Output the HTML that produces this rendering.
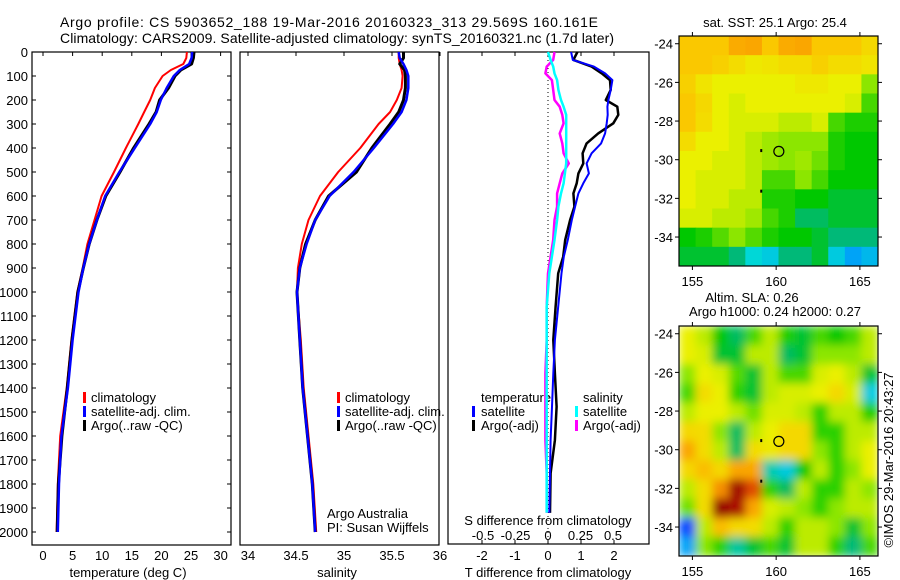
<!DOCTYPE html>
<html><head><meta charset="utf-8"><style>
html,body{margin:0;padding:0;background:#fff;}
svg{display:block;font-family:"Liberation Sans",sans-serif;}
</style></head><body>
<svg id="fig" width="900" height="580" viewBox="0 0 900 580" xmlns="http://www.w3.org/2000/svg">
<defs>
<clipPath id="clipSST"><rect x="679" y="36" width="199" height="230"/></clipPath>
<clipPath id="clipSLA"><rect x="679" y="326" width="199" height="230"/></clipPath>
<filter id="blur" x="679" y="326" width="199" height="230" filterUnits="userSpaceOnUse"><feGaussianBlur stdDeviation="4.5" edgeMode="duplicate"/></filter>
</defs>
<text x="329" y="27" font-size="14" text-anchor="middle" textLength="538">Argo profile: CS 5903652_188 19-Mar-2016 20160323_313 29.569S 160.161E</text>
<text x="337" y="43" font-size="14" text-anchor="middle" textLength="554">Climatology: CARS2009. Satellite-adjusted climatology: synTS_20160321.nc (1.7d later)</text>
<g id="g1"></g>
<g id="g2"></g>
<g id="g3"></g>
<g id="g4"></g>
<g id="g5"></g>
</svg>
<script>
// ---- profile data ----
const depthsA = [0,25,50,75,100,150,200,250,300,400,500,600,700,800,900,1000,1200,1400,1600,1800,2000];
const tempClim = [24.3,24.2,23.7,21.6,20.2,18.9,18.1,17.1,16.1,14.0,12.0,9.9,8.7,7.5,6.7,5.8,4.8,4.0,2.9,2.5,2.3];
const tempSat = [25.2,25.1,24.7,23.1,22.1,20.9,19.9,19.2,18.1,15.5,12.9,10.5,9.1,7.8,6.8,6.0,5.0,4.2,3.1,2.7,2.5];
const tempArgo = [25.5,25.4,25.1,23.3,22.3,21.2,19.7,19.1,17.9,15.3,13.0,10.6,9.1,7.8,6.8,5.9,4.9,4.1,3.2,2.6,2.4];
const salClim = [35.57,35.57,35.58,35.60,35.61,35.60,35.55,35.48,35.36,35.17,34.94,34.75,34.63,34.56,34.52,34.51,34.55,34.58,34.63,34.68,34.71];
const salSat = [35.57,35.58,35.62,35.65,35.67,35.67,35.65,35.60,35.51,35.31,35.10,34.85,34.70,34.61,34.54,34.51,34.54,34.57,34.62,34.67,34.70];
const salArgo = [35.62,35.62,35.58,35.63,35.64,35.64,35.62,35.57,35.48,35.29,35.13,34.84,34.70,34.60,34.54,34.51,34.54,34.57,34.62,34.67,34.70];
const depthsD = [0,33,61,89,117,158,200,228,262,297,339,381,422,464,506,547,589,644,700,783,853,922,1061,1200,1339,1478,1617,1756,1920];
const tdiffSat = [0.70,0.75,1.39,1.73,1.95,1.90,1.83,1.80,1.81,1.78,1.73,1.61,1.32,1.17,1.24,1.07,0.92,0.82,0.72,0.60,0.48,0.41,0.31,0.21,0.16,0.12,0.08,0.06,0.04];
const tdiffArgo = [0.89,0.77,1.32,1.63,1.88,1.90,1.75,2.10,2.13,1.98,1.52,1.17,1.05,1.07,0.92,0.87,0.77,0.80,0.67,0.52,0.46,0.31,0.23,0.16,0.21,0.26,0.21,0.08,0.06];
const sdiffSat = [0.00,0.02,0.04,0.05,0.07,0.08,0.10,0.12,0.14,0.14,0.14,0.14,0.14,0.14,0.13,0.12,0.10,0.08,0.07,0.05,0.03,0.01,-0.01,-0.01,-0.01,-0.01,-0.01,-0.01,-0.01];
const sdiffArgo = [0.05,0.04,-0.01,-0.02,0.03,0.04,0.05,0.09,0.11,0.12,0.09,0.11,0.12,0.16,0.11,0.09,0.07,0.07,0.05,0.04,0.02,0.00,-0.01,-0.01,-0.02,-0.02,-0.02,-0.01,-0.01];
const depthTicks = [0,100,200,300,400,500,600,700,800,900,1000,1100,1200,1300,1400,1500,1600,1700,1800,1900,2000];
const tempTicks = [0,5,10,15,20,25,30];
const salTicks = [34,34.5,35,35.5,36];
const tdTicks = [-2,-1,0,1,2];
const sdTicks = [-0.5,-0.25,0,0.25,0.5];
// ---- map data (rows north->south, cols west->east) ----
const sstGrid = [
[8,8,8,8.5,8.6,8,8.5,8.6,8,8,8,7.6],
[8,8,7.8,7.5,7.2,7.3,7.5,7.5,7.8,7.5,7.5,7.3],
[7.8,7.3,7,7,7,7,7,7.2,7.2,7,7,6],
[8,7.6,7,6.8,7,7,7,7,7,7,6.8,5.5],
[8,7.5,7,6.8,6.8,6.8,6.5,6.5,6.8,5.5,5.2,5.2],
[7.5,7,7,6.8,6.5,6.2,6,6,6,5.2,5,5],
[7,7,6.8,6.8,6.5,6.2,6,6.2,5.8,5.2,5,5],
[7,6.8,6.8,6.8,6.5,5.5,5.5,6,5.5,5,5,5],
[7,6.8,6.8,6.5,6.5,5.2,5.2,5,5,4.8,4.8,4.8],
[6.8,6.8,6.5,6.5,6.2,5.5,5.2,4.6,4.6,4.8,4.8,4.8],
[5,5.2,5.6,6,5.6,5.2,5,5,4.8,4.5,4.5,4.5],
[4.8,4.8,4.8,4.5,4,3.8,4.5,4.5,4.8,3.8,3.2,3.5]];
const slaGrid = [
[7,6.5,5,4.6,5.5,6.5,5.2,4.8,5.5,5,5.5,6.5],
[7,6.8,4.8,4.8,6.5,6.5,4.6,4.8,6,6,6,6.5],
[6,7,6.8,5.6,4.8,6.5,5.5,5.5,6.8,7,6.5,4.8],
[5.5,7.5,7,5.3,4.8,6.5,6.8,6.8,7,7.6,6.8,3.8],
[6.5,7,7,6.5,5.8,6.8,6.8,6.5,5.3,6.5,6.5,5.2],
[7.6,7.5,6,4.6,6.5,7,7.6,7.6,5.3,5.3,6.5,6.5],
[8.6,7.5,6.5,4.6,7.5,7.2,7.6,7.6,6,5.3,6.5,7],
[7.6,8.2,7.6,8.6,8.6,4.2,3.8,5,6.5,5.3,6,7],
[6.5,7.5,8.8,9.9,9.2,5.3,4.6,6.5,5.3,5.3,6.5,6],
[5.8,7.5,10,9.8,8.6,6.8,6.5,6,5.3,6,6.5,6.5],
[2.2,6.5,8.2,7.6,7.5,6.5,5.3,6.5,6.5,6,4.8,6],
[3.2,6,5.3,4.3,4.8,5.5,4.8,6.5,6.5,5.3,4.5,5.5]];
const lonTicks = [155,160,165];
const latTicks = [-24,-26,-28,-30,-32,-34];
const argoLon = 160.161, argoLat = -29.569;

const NS = "http://www.w3.org/2000/svg";
function mk(parent, tag, attrs, text){
  const e = document.createElementNS(NS, tag);
  for (const k in attrs) e.setAttribute(k, attrs[k]);
  if (text !== undefined) e.textContent = text;
  parent.appendChild(e); return e;
}
const yD = d => 52 + d * 0.24;
const xT = t => 43 + t * 5.92;
const xS = s => 296 + (s - 34.5) * 96;
const xTD = v => 548 + v * 33;
const xSD = v => 548 + v * 130;
function line(g, xs, ds, xf, color, w, name){
  const pts = xs.map((v,i)=> xf(v).toFixed(1)+","+yD(ds[i]).toFixed(1)).join(" ");
  const p = mk(g, "polyline", {points: pts, fill:"none", stroke: color, "stroke-width": w, "stroke-linejoin":"round"});
  
  
}
function frame(g, x, y, w, h, name){
  const r = mk(g, "rect", {x:x, y:y, width:w, height:h, fill:"none", stroke:"#000", "stroke-width":1.2});
  
  
}
function txt(g, x, y, s, size, anchor, name){
  const t = mk(g, "text", {x:x, y:y, "font-size": size, "text-anchor": anchor||"start"}, s);
  
  
  return t;
}
function legendMark(g, x, y, color, name){
  const r = mk(g, "rect", {x:x, y:y-10, width:3, height:11, fill:color});
  
  
}

// Panel 1 temperature
const g1 = document.getElementById("g1");
frame(g1, 32, 52, 199, 493, "temperature-plot-frame");
depthTicks.forEach(d=>{
  mk(g1,"line",{x1:32,y1:yD(d),x2:36,y2:yD(d),stroke:"#000"});
  mk(g1,"line",{x1:227,y1:yD(d),x2:231,y2:yD(d),stroke:"#000"});
  txt(g1, 28, yD(d)+5, String(d), 13, "end", "depth-tick-label");
});
tempTicks.forEach(t=>{
  mk(g1,"line",{x1:xT(t),y1:52,x2:xT(t),y2:56,stroke:"#000"});
  txt(g1, xT(t), 560, String(t), 13, "middle", "temperature-tick-label");
});
txt(g1, 128, 577, "temperature (deg C)", 13, "middle", "temperature-axis-title");
line(g1, tempClim, depthsA, xT, "#ff0000", 2, "temperature-climatology-line");
line(g1, tempArgo, depthsA, xT, "#000000", 3, "temperature-argo-line");
line(g1, tempSat, depthsA, xT, "#0000ff", 2.5, "temperature-satellite-line");
legendMark(g1, 83, 402, "#ff0000", "legend-climatology-marker");
txt(g1, 91, 402, "climatology", 13, "start", "legend-climatology");
legendMark(g1, 83, 416, "#0000ff", "legend-satellite-marker");
txt(g1, 91, 416, "satellite-adj. clim.", 13, "start", "legend-satellite-adj");
legendMark(g1, 83, 430, "#000000", "legend-argo-marker");
txt(g1, 91, 430, "Argo(..raw -QC)", 13, "start", "legend-argo");

// Panel 2 salinity
const g2 = document.getElementById("g2");
frame(g2, 240, 52, 199, 493, "salinity-plot-frame");
salTicks.forEach(s=>{
  mk(g2,"line",{x1:xS(s),y1:52,x2:xS(s),y2:56,stroke:"#000"});
  txt(g2, xS(s), 560, String(s), 13, "middle", "salinity-tick-label");
});
txt(g2, 337, 577, "salinity", 13, "middle", "salinity-axis-title");
line(g2, salClim, depthsA, xS, "#ff0000", 2, "salinity-climatology-line");
line(g2, salArgo, depthsA, xS, "#000000", 3, "salinity-argo-line");
line(g2, salSat, depthsA, xS, "#0000ff", 2.5, "salinity-satellite-line");
legendMark(g2, 337, 402, "#ff0000", "legend-climatology-marker");
txt(g2, 345, 402, "climatology", 13, "start", "legend-climatology");
legendMark(g2, 337, 416, "#0000ff", "legend-satellite-marker");
txt(g2, 345, 416, "satellite-adj. clim.", 13, "start", "legend-satellite-adj");
legendMark(g2, 337, 430, "#000000", "legend-argo-marker");
txt(g2, 345, 430, "Argo(..raw -QC)", 13, "start", "legend-argo");
txt(g2, 327, 518, "Argo Australia", 13, "start", "credit-argo-australia");
txt(g2, 327, 532, "PI: Susan Wijffels", 13, "start", "credit-pi");

// Panel 3 differences
const g3 = document.getElementById("g3");
frame(g3, 448, 52, 201, 492, "difference-plot-frame");
mk(g3,"line",{x1:548,y1:52,x2:548,y2:544,stroke:"#000","stroke-dasharray":"1,3"});
tdTicks.forEach(v=>{
  mk(g3,"line",{x1:xTD(v),y1:52,x2:xTD(v),y2:56,stroke:"#000"});
  mk(g3,"line",{x1:xTD(v),y1:540,x2:xTD(v),y2:544,stroke:"#000"});
  txt(g3, xTD(v), 560, String(v), 13, "middle", "t-difference-tick-label");
});
sdTicks.forEach(v=>{
  txt(g3, xSD(v), 540, String(v), 13, "middle", "s-difference-tick-label");
});
txt(g3, 548, 525, "S difference from climatology", 13, "middle", "s-difference-axis-title");
txt(g3, 548, 577, "T difference from climatology", 13, "middle", "t-difference-axis-title");
txt(g3, 481, 402, "temperature", 13, "start", "legend-temperature-heading");
txt(g3, 583, 402, "salinity", 13, "start", "legend-salinity-heading");
legendMark(g3, 472, 416, "#0000ff", "legend-t-satellite-marker");
txt(g3, 481, 416, "satellite", 13, "start", "legend-t-satellite");
legendMark(g3, 472, 430, "#000000", "legend-t-argo-marker");
txt(g3, 481, 430, "Argo(-adj)", 13, "start", "legend-t-argo");
legendMark(g3, 575, 416, "#00ffff", "legend-s-satellite-marker");
txt(g3, 583, 416, "satellite", 13, "start", "legend-s-satellite");
legendMark(g3, 575, 430, "#ff00ff", "legend-s-argo-marker");
txt(g3, 583, 430, "Argo(-adj)", 13, "start", "legend-s-argo");
line(g3, sdiffArgo, depthsD, xSD, "#ff00ff", 2.5, "s-difference-argo-line");
line(g3, sdiffSat, depthsD, xSD, "#00ffff", 2.5, "s-difference-satellite-line");
line(g3, tdiffArgo, depthsD, xTD, "#000000", 2.5, "t-difference-argo-line");
line(g3, tdiffSat, depthsD, xTD, "#0000ff", 2, "t-difference-satellite-line");

// colour scale
const stops = [[0,[0,0,140]],[1.5,[0,0,255]],[3,[0,150,255]],[4,[0,215,215]],[4.5,[0,185,120]],[5,[0,200,0]],[6,[140,230,0]],[7,[235,240,0]],[8,[250,200,0]],[8.7,[250,160,0]],[9.3,[220,60,0]],[10,[150,0,0]]];
function col(v){
  if (v<=stops[0][0]) return "rgb("+stops[0][1]+")";
  for (let i=1;i<stops.length;i++){
    if (v<=stops[i][0]){
      const a=stops[i-1], b=stops[i], f=(v-a[0])/(b[0]-a[0]);
      const c=a[1].map((x,j)=>Math.round(x+(b[1][j]-x)*f));
      return "rgb("+c.join(",")+")";
    }
  }
  return "rgb("+stops[stops.length-1][1]+")";
}
const lonX = lon => 679 + (lon - 154.2) * 16.75;
const latY = (lat, top) => top + (-23.6 - lat) * 19.33;
function drawMap(g, grid, top, name, filt){
  const cg = mk(g, "g", {"clip-path": top<300 ? "url(#clipSST)" : "url(#clipSLA)"});
  const inner = filt ? mk(cg, "g", {filter:"url(#blur)"}) : cg;
  const cw = 199/grid[0].length, ch = 230/grid.length;
  grid.forEach((row,r)=>row.forEach((v,c)=>{
    const cell = mk(inner, "rect", {x:(679+c*cw).toFixed(2), y:(top+r*ch).toFixed(2), width:(cw+0.6).toFixed(2), height:(ch+0.6).toFixed(2), fill:col(v)});
    
    
  }));
  frame(g, 679, top, 199, 230, name+"-frame");
  lonTicks.forEach(l=>{
    mk(g,"line",{x1:lonX(l),y1:top-4,x2:lonX(l),y2:top,stroke:"#000"});
    mk(g,"line",{x1:lonX(l),y1:top+230,x2:lonX(l),y2:top+234,stroke:"#000"});
    txt(g, lonX(l), top+250, String(l), 13, "middle", "longitude-tick-label");
  });
  latTicks.forEach(l=>{
    mk(g,"line",{x1:675,y1:latY(l,top),x2:679,y2:latY(l,top),stroke:"#000"});
    mk(g,"line",{x1:878,y1:latY(l,top),x2:882,y2:latY(l,top),stroke:"#000"});
    txt(g, 673, latY(l,top)+5, String(l), 13, "end", "latitude-tick-label");
  });
  const m = mk(g, "circle", {cx:lonX(argoLon), cy:latY(argoLat,top), r:5, fill:"none", stroke:"#000", "stroke-width":1.2});
  
  
  mk(g,"rect",{x:lonX(159.05),y:latY(-29.45,top),width:2,height:3,fill:"#000"});
  mk(g,"rect",{x:lonX(159.05),y:latY(-31.55,top),width:2,height:3,fill:"#000"});
}
const g4 = document.getElementById("g4");
txt(g4, 775, 27, "sat. SST: 25.1 Argo: 25.4", 13, "middle", "sst-map-title");
drawMap(g4, sstGrid, 36, "sst-map", false);
const g5 = document.getElementById("g5");
txt(g5, 752, 302, "Altim. SLA: 0.26", 13, "middle", "sla-map-title");
txt(g5, 775, 316, "Argo h1000: 0.24 h2000: 0.27", 13, "middle", "sla-map-subtitle");
drawMap(g5, slaGrid, 326, "sla-map", true);
const cr = txt(g5, 0, 0, "\u00a9IMOS 29-Mar-2016 20:43:27", 13, "middle", "imos-credit");
cr.setAttribute("transform","translate(893,460) rotate(-90)");
</script>
</body></html>
